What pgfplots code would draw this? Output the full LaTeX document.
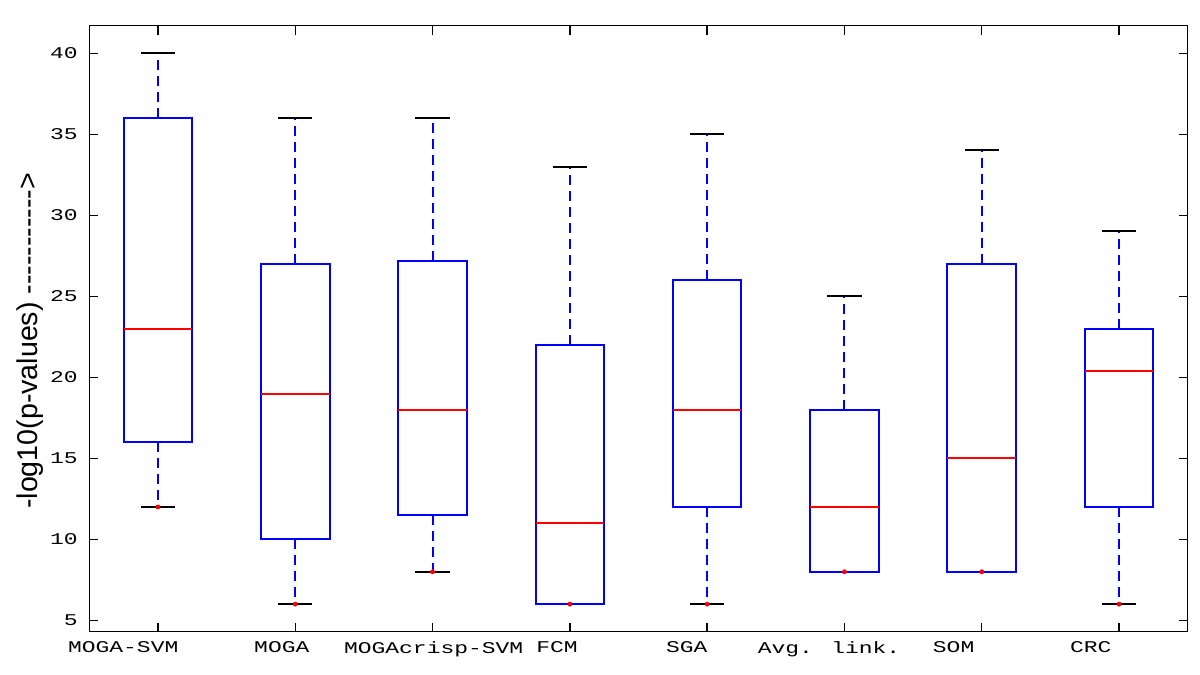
\documentclass[border=0pt]{standalone}
\usepackage{fontspec}
\setmainfont{Liberation Sans}
\newfontfamily\tickfont[FakeStretch=1.4]{Liberation Mono}
\usepackage{pgfplots}
\pgfplotsset{compat=1.18}
\usepgfplotslibrary{statistics}
\newcommand\hy{\mbox{-}}
\newcommand\tf{\tickfont\fontsize{8.2}{9}\selectfont}
\pgfplotsset{
  /pgfplots/boxplot/draw/lower whisker/.code={%
    \draw[blue, line width=1pt, dash pattern=on 5pt off 3pt]
      (boxplot box cs:\pgfplotsboxplotvalue{lower quartile},0.5) --
      (boxplot box cs:\pgfplotsboxplotvalue{lower whisker},0.5);
    \draw[black, line width=1pt]
      (boxplot whisker cs:\pgfplotsboxplotvalue{lower whisker},0) --
      (boxplot whisker cs:\pgfplotsboxplotvalue{lower whisker},1);
  },
  /pgfplots/boxplot/draw/upper whisker/.code={%
    \draw[blue, line width=1pt, dash pattern=on 5pt off 3pt]
      (boxplot box cs:\pgfplotsboxplotvalue{upper quartile},0.5) --
      (boxplot box cs:\pgfplotsboxplotvalue{upper whisker},0.5);
    \draw[black, line width=1pt]
      (boxplot whisker cs:\pgfplotsboxplotvalue{upper whisker},0) --
      (boxplot whisker cs:\pgfplotsboxplotvalue{upper whisker},1);
  },
  mybox/.style={blue, line width=1pt, mark=*, mark size=1pt, mark options={draw=red, fill=red, solid, line width=0.4pt}},
}
\begin{document}
\begin{tikzpicture}
\begin{axis}[
  scale only axis, width=549.2pt, height=303pt,
  xmin=0.5, xmax=8.5, ymin=4.3, ymax=41.7,
  xtick={1,2,3,4,5,6,7,8}, xticklabels={},
  extra x ticks={0.747,1.902,3.008,3.906,4.852,5.888,6.795,7.794},
  extra x tick labels={MOGA-SVM,MOGA,MOGAcrisp-SVM,FCM,SGA,Avg. link.,SOM,CRC},
  extra x tick style={major tick length=0pt, xticklabel style={yshift=-1.6pt}},
  ytick={5,10,...,40},
  tick align=inside,
  major tick length=4.5pt,
  axis line style={black, line width=0.7pt},
  tick style={black, line width=0.7pt},
  tick label style={font=\tf, black},
  yticklabel style={xshift=-2.3pt},
  /pgf/number format/assume math mode=true,
  ylabel={-log10(p-values) \hy\hy\hy\hy\hy\hy\hy\hy\hy\hy\hy>},
  ylabel style={at={(axis description cs:-0.054,0.48)}, anchor=center, font=\fontsize{14.3}{16}\selectfont},
  boxplot/draw direction=y,
  boxplot/box extend=0.5,
  boxplot/whisker extend=0.25,
  boxplot/every box/.style={draw=blue, line width=1pt, fill=none},
  boxplot/every median/.style={draw=red, line width=1pt},
]
\addplot[mybox, boxplot prepared={draw position=1, lower whisker=12, lower quartile=16, median=23, upper quartile=36, upper whisker=40}] table[row sep=\\, y index=0] {12\\};
\addplot[mybox, boxplot prepared={draw position=2, lower whisker=6, lower quartile=10, median=19, upper quartile=27, upper whisker=36}] table[row sep=\\, y index=0] {6\\};
\addplot[mybox, boxplot prepared={draw position=3, lower whisker=8, lower quartile=11.5, median=18, upper quartile=27.2, upper whisker=36}] table[row sep=\\, y index=0] {8\\};
\addplot[mybox, boxplot prepared={draw position=4, lower whisker=6, lower quartile=6, median=11, upper quartile=22, upper whisker=33}] table[row sep=\\, y index=0] {6\\};
\addplot[mybox, boxplot prepared={draw position=5, lower whisker=6, lower quartile=12, median=18, upper quartile=26, upper whisker=35}] table[row sep=\\, y index=0] {6\\};
\addplot[mybox, boxplot prepared={draw position=6, lower whisker=8, lower quartile=8, median=12, upper quartile=18, upper whisker=25}] table[row sep=\\, y index=0] {8\\};
\addplot[mybox, boxplot prepared={draw position=7, lower whisker=8, lower quartile=8, median=15, upper quartile=27, upper whisker=34}] table[row sep=\\, y index=0] {8\\};
\addplot[mybox, boxplot prepared={draw position=8, lower whisker=6, lower quartile=12, median=20.4, upper quartile=23, upper whisker=29}] table[row sep=\\, y index=0] {6\\};
\end{axis}
\pgfresetboundingbox
\path ([shift={(-44.65pt,-21.15pt)}]current axis.south west) rectangle ([shift={(6.15pt,12.85pt)}]current axis.north east);
\end{tikzpicture}
\end{document}
